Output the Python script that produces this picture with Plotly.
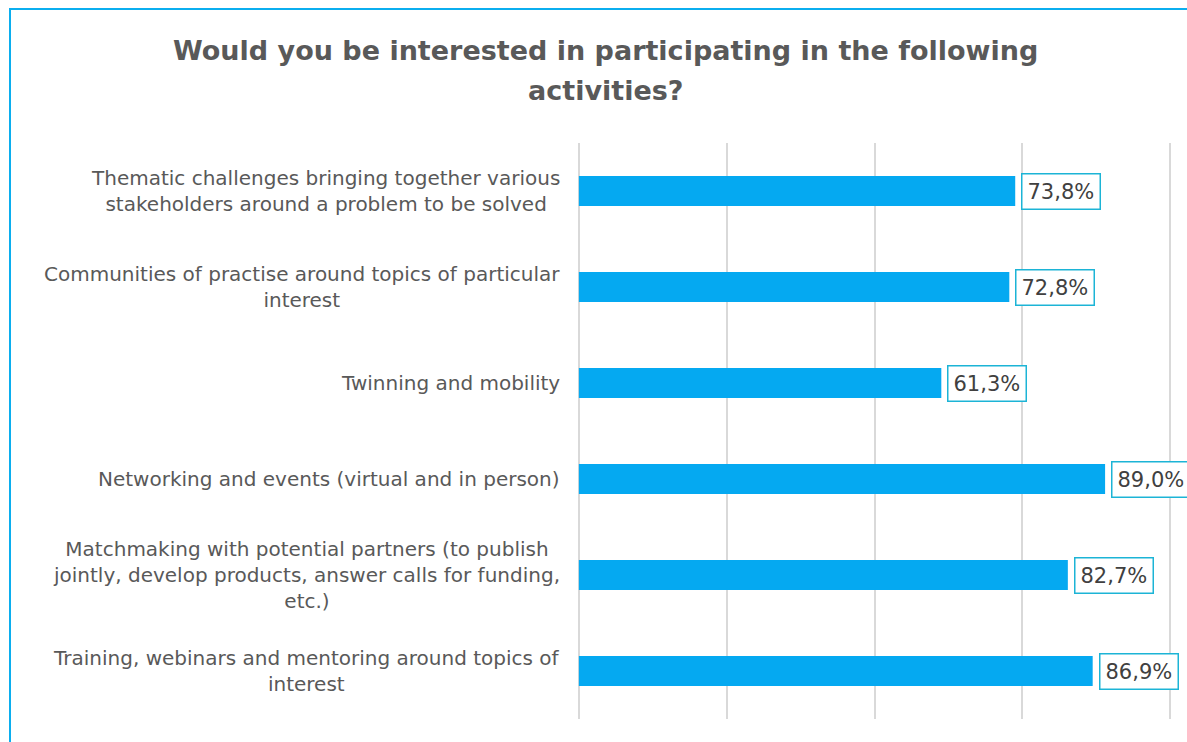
import plotly.graph_objects as go

# Survey activities (top to bottom) and share of respondents interested (%)
activities = [
    "Thematic challenges bringing together various<br>stakeholders around a problem to be solved",
    "Communities of practise around topics of particular<br>interest",
    "Twinning and mobility",
    "Networking and events (virtual and in person)",
    "Matchmaking with potential partners (to publish<br>jointly, develop products, answer calls for funding,<br>etc.)",
    "Training, webinars and mentoring around topics of<br>interest",
]
interest_pct = [73.8, 72.8, 61.3, 89.0, 82.7, 86.9]
x_ticks = [0, 25, 50, 75, 100]

W, H = 1187, 742
ML, MR, MT, MB = 570, 8, 143, 23
PW, PH = W - ML - MR, H - MT - MB

BAR = "#05A9F1"
TXT = "#595959"
FONT = "DejaVu Sans"

cats = [str(i) for i in range(len(activities))]

fig = go.Figure(
    go.Bar(
        x=interest_pct,
        y=cats,
        orientation="h",
        marker=dict(color=BAR, line=dict(width=0)),
        width=0.31,
        hoverinfo="skip",
    )
)

def px_x(px):
    return (px - ML) / PW

def px_y(py):
    return (H - MB - py) / PH

annotations = []
# Category labels, lines centered within each block
for c, label in zip(cats, activities):
    annotations.append(dict(
        x=0, xref="x", y=c, yref="y",
        text=label, showarrow=False,
        xanchor="right", yanchor="middle", xshift=-17,
        align="center",
        font=dict(family=FONT, size=20, color=TXT),
    ))
# Boxed value labels at the bar ends
for c, v in zip(cats, interest_pct):
    annotations.append(dict(
        x=v, xref="x", y=c, yref="y",
        text=f"{v:.1f}%".replace(".", ","), showarrow=False,
        xanchor="left", yanchor="middle", xshift=6,
        bgcolor="white", bordercolor="#1CB4D6", borderwidth=1.5, borderpad=5,
        font=dict(family=FONT, size=21, color="#404040"),
    ))
# Title, two lines
for txt, py in [("Would you be interested in participating in the following", 50),
                ("activities?", 90)]:
    annotations.append(dict(
        x=px_x(605), xref="paper", y=px_y(py), yref="paper",
        text=f"<b>{txt}</b>", showarrow=False,
        xanchor="center", yanchor="middle",
        font=dict(family=FONT, size=27, color=TXT),
    ))

fig.update_layout(
    width=W, height=H,
    margin=dict(l=ML, r=MR, t=MT, b=MB, pad=0),
    paper_bgcolor="white", plot_bgcolor="white",
    showlegend=False,
    bargap=0.69,
    annotations=annotations,
    shapes=[dict(
        type="rect", xref="paper", yref="paper",
        x0=px_x(10), x1=px_x(1210), y0=px_y(9), y1=px_y(760),
        line=dict(color="#0BAEEF", width=2), fillcolor="rgba(0,0,0,0)",
        layer="below",
    )],
    xaxis=dict(
        range=[-1.5, 101.5], tickvals=x_ticks, showticklabels=False,
        showgrid=True, gridcolor="#D9D9D9", gridwidth=1.5,
        zeroline=False, showline=False, ticks="", fixedrange=True,
    ),
    yaxis=dict(
        categoryorder="array", categoryarray=cats, autorange="reversed",
        showticklabels=False, showgrid=False, zeroline=False,
        showline=False, ticks="", fixedrange=True,
    ),
)

fig.write_html("out.html", config={"displayModeBar": False})
